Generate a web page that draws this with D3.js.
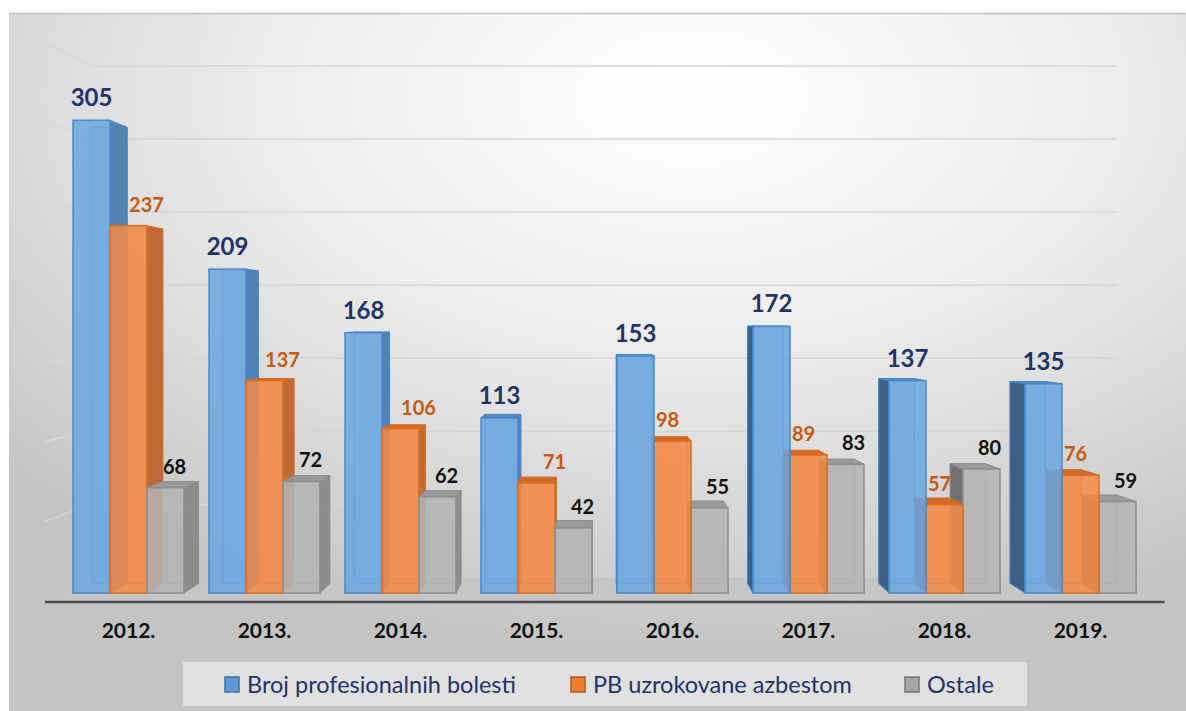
<!DOCTYPE html>
<html>
<head>
<meta charset="utf-8">
<script src="https://cdn.jsdelivr.net/npm/d3@7/dist/d3.min.js"></script>
<style>
  html, body { margin: 0; padding: 0; background: #ffffff; }
  svg { display: block; }
</style>
</head>
<body>
<svg width="1186" height="711"></svg>
<script>
// podaci
const years = ['2012.', '2013.', '2014.', '2015.', '2016.', '2017.', '2018.', '2019.'];
const seriesNames = ['Broj profesionalnih bolesti', 'PB uzrokovane azbestom', 'Ostale'];
const brojBolesti = [305, 209, 168, 113, 153, 172, 137, 135];
const azbest = [237, 137, 106, 71, 98, 89, 57, 76];
const ostale = [68, 72, 62, 42, 55, 83, 80, 59];
const yTicks = [50, 100, 150, 200, 250, 300, 350];

const values = [brojBolesti, azbest, ostale];

const styles = [
  { front: '#6ba7e0', stroke: '#4a88cc', sideL: '#4c7eb2', sideR: '#385a80', top: '#5087c0',
    label: '#1f3468', size: 24, weight: 'bold', dxL: 0, dxR: 0, swatch: '#5b9bd5', swStroke: '#3f72a6' },
  { front: '#f28a48', stroke: '#dc6c22', sideL: '#bd6630', sideR: '#9e5225', top: '#cf6a2b',
    label: '#c55a11', size: 20, weight: 'bold', dxL: 18, dxR: -5, swatch: '#ed7d31', swStroke: '#b05a20' },
  { front: '#b4b4b4', stroke: '#8e8e8e', sideL: '#8a8a8a', sideR: '#6c6c6c', top: '#9a9a9a',
    label: '#111111', size: 20, weight: 'bold', dxL: 9, dxR: 8, swatch: '#a5a5a5', swStroke: '#777777' }
];

const svg = d3.select('svg');
const W = 1186, H = 711;

// pozadina
const defs = svg.append('defs');
const bg = defs.append('radialGradient').attr('id', 'bg')
  .attr('cx', '58%').attr('cy', '12%').attr('r', '80%');
bg.append('stop').attr('offset', '0%').attr('stop-color', '#ffffff');
bg.append('stop').attr('offset', '45%').attr('stop-color', '#ededed');
bg.append('stop').attr('offset', '100%').attr('stop-color', '#c4c4c4');

svg.append('rect').attr('x', 9).attr('y', 13).attr('width', W - 9).attr('height', H - 13)
  .attr('fill', 'url(#bg)');
svg.append('line').attr('x1', 9).attr('x2', W).attr('y1', 13.5).attr('y2', 13.5)
  .attr('stroke', '#c2c2c2').attr('stroke-width', 1.5);

// skale
const x = d3.scaleBand().domain(years).range([60.5, 1148.5]).paddingInner(0.184).paddingOuter(0.092);
const xs = d3.scaleBand().domain(seriesNames).range([0, x.bandwidth()]);
const y = d3.scaleLinear().domain([0, 350]).range([593, 50.5]);

// perspektiva
const vx = 597, vy = 320;
const S_BACK = 0.965, S_WALL = 0.9425, S_FLOOR = 1.029;
const P = (px, py, s) => [vx + (px - vx) * s, vy + (py - vy) * s];
const poly = pts => 'M' + pts.map(p => p.join(',')).join('L') + 'Z';

const x0 = x.range()[0], x1 = x.range()[1];

// mreža: lijevi zid i stražnji zid
const grid = svg.append('g');
yTicks.forEach(t => {
  const a = P(x0, y(t), S_FLOOR), b = P(x0, y(t), S_WALL), c = P(x1, y(t), S_WALL);
  grid.append('path').attr('d', `M${a}L${b}L${c}`)
    .attr('fill', 'none').attr('stroke', '#d6d6d6').attr('stroke-width', 1.5);
});

// pod
const floorPts = [P(x0, y(0), S_FLOOR), P(x1, y(0), S_FLOOR), P(x1, y(0), S_WALL), P(x0, y(0), S_WALL)];
svg.append('path').attr('d', poly(floorPts)).attr('fill', '#c6c6c6');
svg.append('line')
  .attr('x1', floorPts[0][0]).attr('x2', floorPts[1][0])
  .attr('y1', floorPts[0][1] + 1).attr('y2', floorPts[1][1] + 1)
  .attr('stroke', '#4a4a4a').attr('stroke-width', 2.5);

// stupci
const bars = [];
years.forEach((yr, i) => {
  seriesNames.forEach((sn, k) => {
    const bx0 = x(yr) + xs(sn), bx1 = bx0 + xs.bandwidth();
    bars.push({ i, k, v: values[k][i], bx0, bx1, cx: (bx0 + bx1) / 2 });
  });
});
bars.sort((a, b) => Math.abs(b.cx - vx) - Math.abs(a.cx - vx));

const gBars = svg.append('g');
bars.forEach(d => {
  const st = styles[d.k];
  const yt = y(d.v), yb = y(0);
  const g = gBars.append('g');
  // stražnja strana (vidi se kroz prednju)
  g.append('path')
    .attr('d', poly([P(d.bx0, yt, S_BACK), P(d.bx1, yt, S_BACK), P(d.bx1, yb, S_BACK), P(d.bx0, yb, S_BACK)]))
    .attr('fill', st.front).attr('fill-opacity', 0.35)
    .attr('stroke', st.stroke).attr('stroke-width', 1);
  // bočna strana
  const left = d.cx < vx;
  const sx = left ? d.bx1 : d.bx0;
  g.append('path')
    .attr('d', poly([P(sx, yt, 1), P(sx, yt, S_BACK), P(sx, yb, S_BACK), P(sx, yb, 1)]))
    .attr('fill', left ? st.sideL : st.sideR).attr('fill-opacity', 0.95)
    .attr('stroke', st.stroke).attr('stroke-width', 1);
  // gornja strana
  if (yt > vy) {
    g.append('path')
      .attr('d', poly([P(d.bx0, yt, 1), P(d.bx1, yt, 1), P(d.bx1, yt, S_BACK), P(d.bx0, yt, S_BACK)]))
      .attr('fill', st.top).attr('stroke', st.stroke).attr('stroke-width', 1);
  }
  // prednja strana
  g.append('rect')
    .attr('x', d.bx0).attr('y', yt).attr('width', d.bx1 - d.bx0).attr('height', yb - yt)
    .attr('fill', st.front).attr('fill-opacity', 0.86)
    .attr('stroke', st.stroke).attr('stroke-width', 1.5);
});

// oznake vrijednosti
const gLab = svg.append('g');
bars.forEach(d => {
  const st = styles[d.k];
  gLab.append('text')
    .attr('x', d.cx + (d.cx < vx ? st.dxL : st.dxR)).attr('y', y(d.v) - 14)
    .attr('text-anchor', 'middle')
    .style('font-family', 'Lato, "Open Sans", sans-serif')
    .style('font-size', st.size + 'px').style('font-weight', st.weight)
    .attr('fill', st.label)
    .text(d.v);
});

// os x
svg.append('g').selectAll('text').data(years).join('text')
  .attr('x', d => x(d) + x.bandwidth() / 2).attr('y', 638)
  .attr('text-anchor', 'middle')
  .style('font-family', 'Lato, "Open Sans", sans-serif')
  .style('font-size', '21px').style('font-weight', 'bold')
  .attr('fill', '#111')
  .text(d => d);

// legenda
const leg = svg.append('g');
leg.append('rect').attr('x', 183).attr('y', 662).attr('width', 844).attr('height', 44)
  .attr('fill', '#e9e9e9').attr('fill-opacity', 0.8);
const legX = [225, 571, 905];
seriesNames.forEach((sn, k) => {
  const st = styles[k];
  leg.append('rect').attr('x', legX[k]).attr('y', 677).attr('width', 14).attr('height', 15)
    .attr('fill', st.swatch).attr('stroke', st.swStroke).attr('stroke-width', 1.5);
  leg.append('text').attr('x', legX[k] + 22).attr('y', 693)
    .style('font-family', 'Lato, "Open Sans", sans-serif')
    .style('font-size', '23.5px')
    .attr('fill', '#1f3468')
    .text(sn);
});
</script>
</body>
</html>
